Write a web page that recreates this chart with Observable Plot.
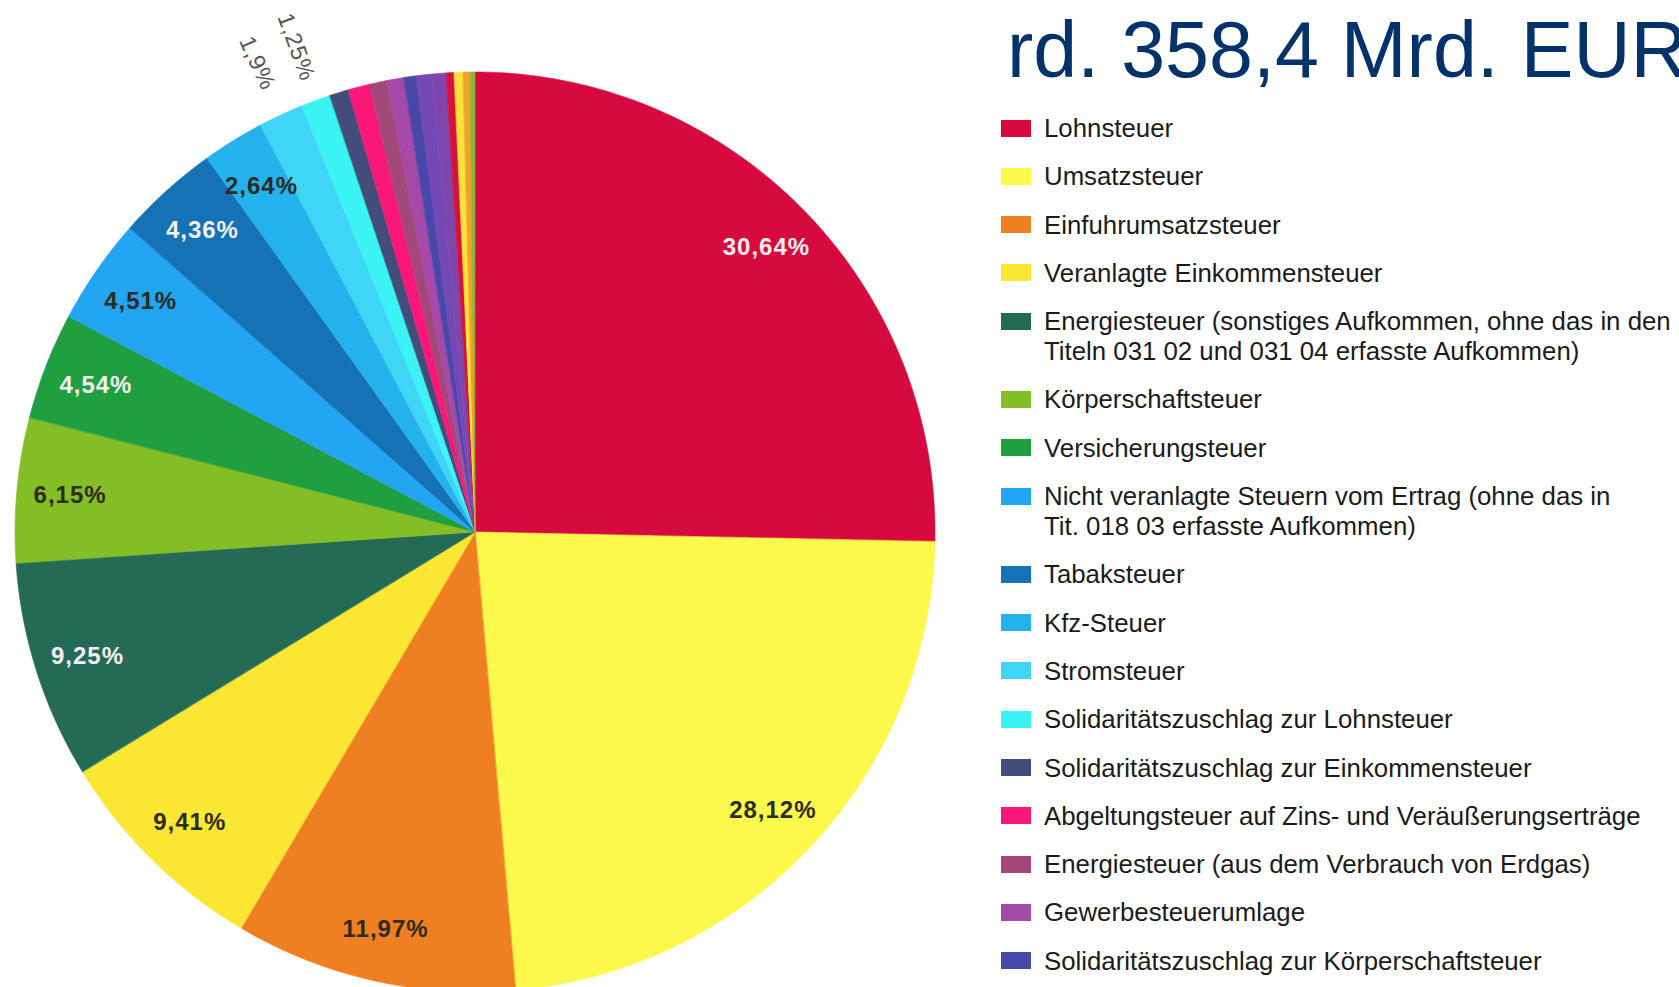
<!DOCTYPE html>
<html><head><meta charset="utf-8">
<script src="https://cdn.jsdelivr.net/npm/d3@7"></script>
<script src="https://cdn.jsdelivr.net/npm/@observablehq/plot@0.6"></script>
<style>
html,body{margin:0;padding:0;background:#fff;}
body{width:1679px;height:987px;overflow:hidden;position:relative;font-family:"Liberation Sans",Arial,sans-serif;}
#pie{position:absolute;left:0;top:0;}
#title{position:absolute;left:1007px;top:10px;font-size:79px;line-height:79px;color:#04326a;white-space:nowrap;}
#legend{position:absolute;left:1001px;top:113px;}
.row{display:flex;align-items:flex-start;margin-bottom:18.3px;}
.sw{width:30px;height:17px;margin-top:6.5px;flex:none;}
.lab{margin-left:13px;font-size:25.8px;line-height:30px;color:#1b1b1b;white-space:pre;}
</style>
</head><body>
<div id="pie"></div>
<div id="title">rd. 358,4 Mrd. EUR</div>
<div id="legend"></div>
<script>
// ---- data ----
const names = [
  "Lohnsteuer",
  "Umsatzsteuer",
  "Einfuhrumsatzsteuer",
  "Veranlagte Einkommensteuer",
  "Energiesteuer (sonstiges Aufkommen, ohne das in den\nTiteln 031 02 und 031 04 erfasste Aufkommen)",
  "Körperschaftsteuer",
  "Versicherungsteuer",
  "Nicht veranlagte Steuern vom Ertrag (ohne das in\nTit. 018 03 erfasste Aufkommen)",
  "Tabaksteuer",
  "Kfz-Steuer",
  "Stromsteuer",
  "Solidaritätszuschlag zur Lohnsteuer",
  "Solidaritätszuschlag zur Einkommensteuer",
  "Abgeltungsteuer auf Zins- und Veräußerungserträge",
  "Energiesteuer (aus dem Verbrauch von Erdgas)",
  "Gewerbesteuerumlage",
  "Solidaritätszuschlag zur Körperschaftsteuer",
  "weitere 1", "weitere 2", "weitere 3", "weitere 4", "weitere 5", "weitere 6"
];
const values = [30.64, 28.12, 11.97, 9.41, 9.25, 6.15, 4.54, 4.51, 4.36, 2.64, 1.9, 1.25,
  0.81, 0.91, 0.75, 0.71, 0.54, 0.64, 0.61, 0.34, 0.37, 0.30, 0.20];
const colors = ["#d60a3e","#fdf94c","#ee8022","#fbe633","#256a55","#84be26","#1f9f3f","#22a6f3",
  "#1572b4","#24b2ec","#3fd5f7","#3bf3f3","#434d7b","#fb1777","#a3497a","#a64aa9","#4848ab",
  "#7549b5","#7e47ad","#d8103c","#fbe13a","#eea42a","#8cb43a"];
const labelTone = ["light","dark","dark","dark","light","dark","light","dark","light","dark","dark","dark"];
const legendCount = 17;

// ---- layout ----
const cx = 475, cy = 532, R = 460, W = 990, H = 1000;

const arcs = d3.pie().sort(null).value(d => d)(values);
const rows = [];
arcs.forEach((a, i) => {
  const n = Math.max(2, Math.ceil((a.endAngle - a.startAngle) / (Math.PI / 360)));
  for (let k = 0; k <= n; k++) {
    const t = a.startAngle + (a.endAngle - a.startAngle) * k / n;
    rows.push({name: names[i], x1: Math.sin(t), y1: Math.cos(t), x2: 0, y2: 0});
  }
});
const labels = arcs.map((a, i) => {
  const m = (a.startAngle + a.endAngle) / 2;
  const v = values[i];
  const inside = v >= 2;
  const r = inside ? 0.885 : 1.125;
  return {
    x: r * Math.sin(m), y: r * Math.cos(m),
    text: v.toLocaleString("de-DE") + "%",
    tone: labelTone[i], inside, show: v >= 1,
    rot: Math.atan2(Math.cos(m), -Math.sin(m)) * 180 / Math.PI
  };
}).filter(d => d.show);

const font = "Liberation Sans, Arial, sans-serif";
const chart = Plot.plot({
  width: W, height: H, margin: 0,
  style: {background: "transparent", overflow: "visible", letterSpacing: "1px"},
  x: {domain: [-cx / R, (W - cx) / R], axis: null},
  y: {domain: [-(H - cy) / R, cy / R], axis: null},
  color: {domain: names, range: colors},
  marks: [
    Plot.area(rows, {x1: "x1", y1: "y1", x2: "x2", y2: "y2", z: "name", fill: "name", stroke: "name", strokeWidth: 0.6, curve: "linear"}),
    Plot.text(labels.filter(d => d.inside && d.tone === "light"), {x: "x", y: "y", text: "text", fill: "#f6eef0", fontSize: 24, fontWeight: "bold", fontFamily: font}),
    Plot.text(labels.filter(d => d.inside && d.tone === "dark"), {x: "x", y: "y", text: "text", fill: "#2b2b20", fontSize: 24, fontWeight: "bold", fontFamily: font}),
    Plot.text(labels.filter(d => !d.inside), {x: "x", y: "y", text: "text", rotate: "rot", fill: "#555", fontSize: 23, fontFamily: font})
  ]
});
document.getElementById("pie").appendChild(chart);

// ---- legend ----
const leg = document.getElementById("legend");
names.slice(0, legendCount).forEach((n, i) => {
  const row = document.createElement("div"); row.className = "row";
  const sw = document.createElement("div"); sw.className = "sw"; sw.style.background = colors[i];
  const lab = document.createElement("div"); lab.className = "lab"; lab.textContent = n;
  row.appendChild(sw); row.appendChild(lab); leg.appendChild(row);
});
</script>
</body></html>
